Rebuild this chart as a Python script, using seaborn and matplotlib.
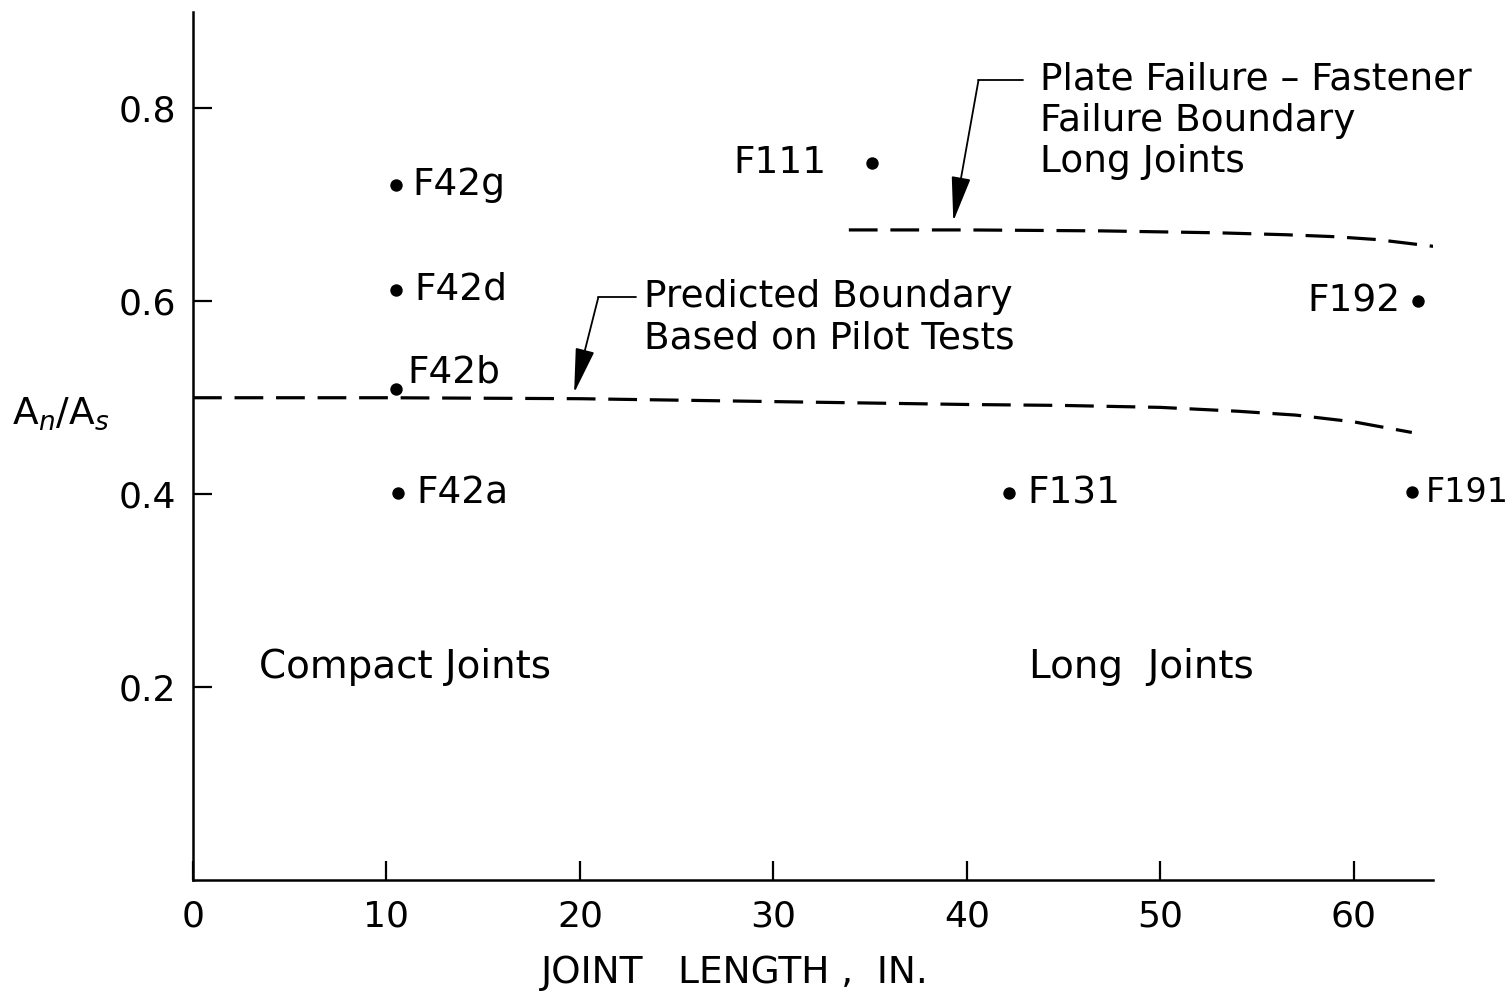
import matplotlib
matplotlib.use('Agg')
import pandas as pd
import matplotlib.pyplot as plt
import seaborn as sns

# test specimens
specimens = ['F42g', 'F42d', 'F42b', 'F42a', 'F111', 'F192', 'F131', 'F191']
joint_length = [10.5, 10.5, 10.5, 10.6, 35.1, 63.3, 42.2, 63.0]
area_ratio = [0.721, 0.612, 0.509, 0.401, 0.743, 0.600, 0.401, 0.402]

# predicted boundary (pilot tests)
pilot_x = [0, 10, 20, 30, 40, 45, 50, 54, 57, 60, 63]
pilot_y = [0.500, 0.500, 0.499, 0.496, 0.493, 0.492, 0.490, 0.486, 0.482, 0.475, 0.464]

# plate failure - fastener failure boundary, long joints
plate_x = [33.9, 40, 47, 53, 56.5, 59, 61.2, 64.1]
plate_y = [0.674, 0.674, 0.673, 0.671, 0.669, 0.667, 0.664, 0.657]

x_ticks = [0, 10, 20, 30, 40, 50, 60]
y_ticks = [0.2, 0.4, 0.6, 0.8]

sns.set_style('ticks')
plt.rcParams['font.family'] = ['DejaVu Sans']
plt.rcParams['text.color'] = 'black'
plt.rcParams['axes.labelcolor'] = 'black'

fig = plt.figure(figsize=(15.09, 9.97), dpi=100)
ax = fig.add_axes([0.1279, 0.1174, 0.8218, 0.8706])

pts = pd.DataFrame({'length': joint_length, 'ratio': area_ratio, 'name': specimens})
sns.scatterplot(data=pts, x='length', y='ratio', color='black', s=80,
                edgecolor='black', linewidth=0, ax=ax, zorder=3)

dash = (0, (9, 4))
sns.lineplot(x=pilot_x, y=pilot_y, sort=False, color='black', lw=2.3,
             linestyle=dash, ax=ax)
sns.lineplot(x=plate_x, y=plate_y, sort=False, color='black', lw=2.3,
             linestyle=dash, ax=ax)

fs = 27
# label offsets (points), alignment, size
offsets = {
    'F42g': (12, 0, 'left', fs), 'F42d': (13, 0, 'left', fs),
    'F42b': (8, 12, 'left', fs), 'F42a': (13, 0, 'left', fs),
    'F111': (-33, 0, 'right', fs), 'F192': (-12, 0, 'right', fs),
    'F131': (13, 0, 'left', fs), 'F191': (10, 0, 'left', 24),
}
for name, xv, yv in zip(specimens, joint_length, area_ratio):
    dx, dy, ha, size = offsets[name]
    ax.annotate(name, (xv, yv), xytext=(dx, dy), textcoords='offset points',
                ha=ha, va='center', fontsize=size)

# leader lines with arrows
arrow = dict(arrowstyle='-|>,head_length=1.4,head_width=0.3', color='black',
             lw=1.3, mutation_scale=20, shrinkA=0, shrinkB=0)
ax.plot([42.9, 40.6], [0.829, 0.829], color='black', lw=1.3)
ax.annotate('', xy=(39.3, 0.683), xytext=(40.6, 0.829), arrowprops=arrow)
ax.text(43.8, 0.849, 'Plate Failure – Fastener\nFailure Boundary\nLong Joints',
        fontsize=fs, va='top', ha='left', linespacing=1.2)

ax.plot([22.9, 20.95], [0.604, 0.604], color='black', lw=1.3)
ax.annotate('', xy=(19.7, 0.505), xytext=(20.95, 0.604), arrowprops=arrow)
ax.text(23.3, 0.623, 'Predicted Boundary\nBased on Pilot Tests',
        fontsize=fs, va='top', ha='left', linespacing=1.2)

ax.text(3.4, 0.221, 'Compact Joints', fontsize=28, va='center', ha='left')
ax.text(43.2, 0.221, 'Long  Joints', fontsize=28, va='center', ha='left')

ax.set_xlim(0, 64.1)
ax.set_ylim(0, 0.9)
ax.set_xticks(x_ticks)
ax.set_yticks(y_ticks)
ax.set_xticklabels([str(t) for t in x_ticks])
ax.set_yticklabels([str(t) for t in y_ticks])
ax.tick_params(axis='x', direction='in', length=14, width=1.6, pad=14,
               labelsize=26, colors='black')
ax.tick_params(axis='y', direction='in', length=14, width=1.6, pad=12,
               labelsize=26, colors='black')
for side in ['top', 'right']:
    ax.spines[side].set_visible(False)
for side in ['left', 'bottom']:
    ax.spines[side].set_linewidth(1.8)
    ax.spines[side].set_color('black')

ax.set_xlabel('JOINT   LENGTH ,  IN.', fontsize=27)
ax.xaxis.set_label_coords(0.437, -0.086)
ax.set_ylabel('')
fig.text(0.008, 0.585, r'A$_n$/A$_s$', fontsize=27, ha='left', va='center')

fig.savefig('out.png', dpi=100)
